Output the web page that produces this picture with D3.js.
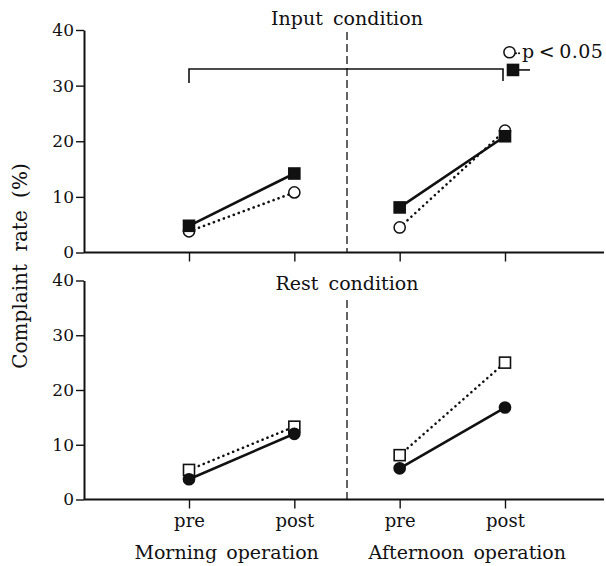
<!DOCTYPE html>
<html>
<head>
<meta charset="utf-8">
<script src="https://cdn.jsdelivr.net/npm/d3@7"></script>
<style>
  html, body { margin: 0; padding: 0; background: #fff; }
  svg { display: block; }
  text { font-family: "DejaVu Serif", "Liberation Serif", serif; fill: #111; }
</style>
</head>
<body>
<div id="chart"></div>
<script>
// ---- data ----
const sessions = ["Morning operation", "Afternoon operation"];
const phases = ["pre", "post"];
const categories = ["M-pre", "M-post", "A-pre", "A-post"];
const tickLabels = ["pre", "post", "pre", "post"];
const yTicks = [0, 10, 20, 30, 40];

// Input condition
const inputSquares = [4.8, 14.2, 8.1, 20.9];   // filled squares, solid line
const inputCircles = [3.8, 10.8, 4.5, 21.9];   // open circles, dotted line
// Rest condition
const restSquares = [5.4, 13.3, 8.1, 25.0];    // open squares, dotted line
const restCircles = [3.7, 12.0, 5.7, 16.8];    // filled circles, solid line

// significance annotation (input condition, afternoon post)
const sigCircleValue = 36.0;
const sigSquareValue = 33.0;
const bracketValue = 33.0;
const sigText = "p\u2009<\u20090.05";

// ---- layout ----
const W = 606, H = 566;
const axisX0 = 84, axisX1 = 604;
const svg = d3.select("#chart").append("svg").attr("width", W).attr("height", H);

const x = d3.scalePoint().domain(categories).range([189, 505]);
const dividerX = (x("M-post") + x("A-pre")) / 2;

const panels = [
  { title: "Input condition", titleY: 25, y: d3.scaleLinear().domain([0, 40]).range([252.5, 30]),
    dashTop: 32,
    series: [
      { values: inputCircles, marker: "circle", filled: false, dotted: true },
      { values: inputSquares, marker: "square", filled: true, dotted: false }
    ], showLabels: false },
  { title: "Rest condition", titleY: 290, y: d3.scaleLinear().domain([0, 40]).range([499.5, 280.5]),
    dashTop: 300,
    series: [
      { values: restSquares, marker: "square", filled: false, dotted: true },
      { values: restCircles, marker: "circle", filled: true, dotted: false }
    ], showLabels: true }
];

function drawMarker(g, type, filled, cx, cy) {
  if (type === "circle") {
    g.append("circle").attr("cx", cx).attr("cy", cy).attr("r", 5.6)
      .attr("fill", filled ? "#111" : "#fff").attr("stroke", "#111").attr("stroke-width", 1.5);
  } else {
    const s = 11;
    g.append("rect").attr("x", cx - s / 2).attr("y", cy - s / 2).attr("width", s).attr("height", s)
      .attr("fill", filled ? "#111" : "#fff").attr("stroke", "#111").attr("stroke-width", 1.6);
  }
}

panels.forEach(p => {
  const g = svg.append("g");
  const y = p.y;

  // y axis
  const ya = g.append("g").attr("transform", `translate(${axisX0},0)`)
    .call(d3.axisLeft(y).tickValues(yTicks).tickSize(8).tickSizeOuter(0).tickPadding(2));
  ya.select(".domain").attr("stroke", "#111").attr("stroke-width", 2);
  ya.selectAll(".tick line").attr("stroke", "#111").attr("stroke-width", 1.4);
  ya.selectAll(".tick text").style("font-family", '"DejaVu Serif", serif')
    .attr("font-size", 17).attr("fill", "#111");

  // x axis
  const xa = g.append("g").attr("transform", `translate(0,${y(0)})`)
    .call(d3.axisBottom(x).tickSize(9).tickSizeOuter(0).tickPadding(6)
      .tickFormat((d, i) => p.showLabels ? tickLabels[i] : ""));
  xa.select(".domain").remove();
  xa.append("line").attr("x1", axisX0).attr("x2", axisX1).attr("y1", 0).attr("y2", 0)
    .attr("stroke", "#111").attr("stroke-width", 2);
  xa.selectAll(".tick line").attr("stroke", "#111").attr("stroke-width", 1.4);
  xa.selectAll(".tick text").style("font-family", '"DejaVu Serif", serif')
    .attr("font-size", 18).attr("fill", "#111");

  // divider
  g.append("line").attr("x1", dividerX).attr("x2", dividerX)
    .attr("y1", p.dashTop).attr("y2", y(0))
    .attr("stroke", "#111").attr("stroke-width", 1.3).attr("stroke-dasharray", "8 4");

  // title
  g.append("text").attr("x", dividerX).attr("y", p.titleY).attr("text-anchor", "middle")
    .attr("font-size", 19).style("word-spacing", "4px").text(p.title);

  // series lines (one segment per session)
  const line = d3.line().x(d => x(d.k)).y(d => y(d.v));
  p.series.forEach(s => {
    [0, 1].forEach(si => {
      const pts = [0, 1].map(j => ({ k: categories[si * 2 + j], v: s.values[si * 2 + j] }));
      g.append("path").attr("d", line(pts)).attr("fill", "none").attr("stroke", "#111")
        .attr("stroke-width", 2.6)
        .attr("stroke-linecap", "round")
        .attr("stroke-dasharray", s.dotted ? "0.1 5.2" : null);
    });
  });
  p.series.forEach(s => {
    s.values.forEach((v, i) => drawMarker(g, s.marker, s.filled, x(categories[i]), y(v)));
  });
});

// significance annotation in top panel
(function () {
  const y = panels[0].y;
  const g = svg.append("g");
  const xl = x("M-pre"), xr = x("A-post") - 2;
  const yb = y(bracketValue);
  g.append("path")
    .attr("d", `M${xl},${yb + 14}V${yb}H${xr}V${yb + 12}`)
    .attr("fill", "none").attr("stroke", "#111").attr("stroke-width", 1.6);
  const base = x("A-post");
  // circle + dots + text
  const cy = y(sigCircleValue);
  drawMarker(g, "circle", false, base + 4.5, cy);
  [0, 1].forEach(i => g.append("circle").attr("cx", base + 11 + i * 3).attr("cy", cy + 1)
    .attr("r", 1.1).attr("fill", "#111"));
  g.append("text").attr("x", base + 17).attr("y", cy + 5.5).attr("font-size", 19)
    .style("letter-spacing", "0.4px").text(sigText);
  // square + short line
  const sy = y(sigSquareValue) + 1;
  g.append("line").attr("x1", base + 8).attr("x2", base + 25).attr("y1", sy).attr("y2", sy)
    .attr("stroke", "#111").attr("stroke-width", 1.6);
  drawMarker(g, "square", true, base + 8, sy);
})();

// session labels
const sessionOffsets = [-15, 15];
sessions.forEach((s, i) => {
  const cx = (x(categories[i * 2]) + x(categories[i * 2 + 1])) / 2 + sessionOffsets[i];
  svg.append("text").attr("x", cx).attr("y", 559).attr("text-anchor", "middle")
    .attr("font-size", 19).style("word-spacing", "3px").text(s);
});

// y label
svg.append("text").attr("transform", "translate(27,266) rotate(-90)")
  .attr("text-anchor", "middle").attr("font-size", 20).style("word-spacing", "6px")
  .text("Complaint rate (%)");
</script>
</body>
</html>
